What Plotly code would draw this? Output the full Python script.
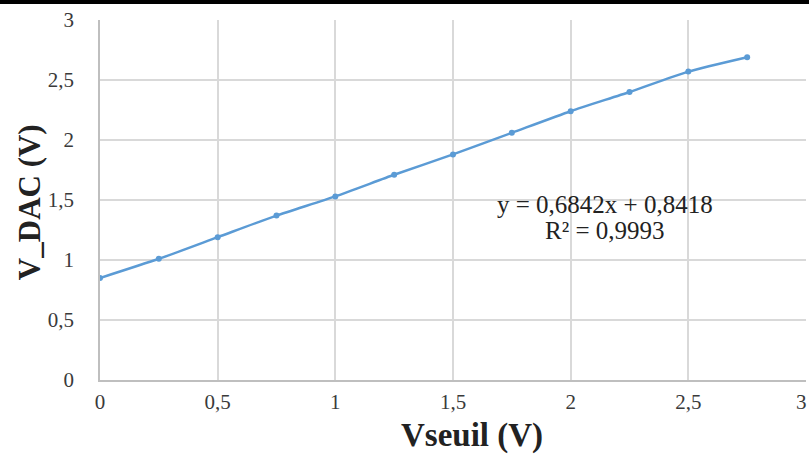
import plotly.graph_objects as go

vseuil = [0, 0.25, 0.5, 0.75, 1, 1.25, 1.5, 1.75, 2, 2.25, 2.5, 2.75]
v_dac = [0.85, 1.01, 1.19, 1.37, 1.53, 1.71, 1.88, 2.06, 2.24, 2.40, 2.57, 2.69]
x_ticks = [0, 0.5, 1, 1.5, 2, 2.5, 3]
x_tick_labels = ["0", "0,5", "1", "1,5", "2", "2,5", "3"]
y_ticks = [0, 0.5, 1, 1.5, 2, 2.5, 3]
y_tick_labels = ["0", "0,5", "1", "1,5", "2", "2,5", "3"]
fit_text = "y = 0,6842x + 0,8418"
r2_text = "R² = 0,9993"
x_title = "Vseuil (V)"
y_title = "V_DAC (V)"

serif = "Liberation Serif, Times New Roman, serif"
tick_color = "#3a3a3a"

fig = go.Figure()
fig.add_trace(go.Scatter(
    x=vseuil, y=v_dac, mode="lines+markers",
    line=dict(color="#5B9BD5", width=2.5, shape="spline", smoothing=0.6),
    marker=dict(color="#5B9BD5", size=6),
    showlegend=False,
))

fig.add_annotation(
    x=2.146, y=1.46, xref="x", yref="y", xanchor="center", yanchor="middle",
    text=fit_text, showarrow=False,
    font=dict(family=serif, size=25, color="#222222"),
)
fig.add_annotation(
    x=2.146, y=1.25, xref="x", yref="y", xanchor="center", yanchor="middle",
    text=r2_text, showarrow=False,
    font=dict(family=serif, size=25, color="#222222"),
)
# last x tick label, at the right edge as in the original
fig.add_annotation(
    x=x_ticks[-1], y=0, xref="x", yref="paper", yshift=-22, xshift=3,
    xanchor="right", yanchor="middle",
    text=x_tick_labels[-1], showarrow=False,
    font=dict(family=serif, size=21, color=tick_color),
)
# axis titles
fig.add_annotation(
    x=0.527, y=-0.212, xref="paper", yref="paper",
    xanchor="center", yanchor="bottom",
    text="<b>" + x_title + "</b>", showarrow=False,
    font=dict(family=serif, size=33, color="#222222"),
)
fig.add_annotation(
    x=-0.1006, y=0.494, xref="paper", yref="paper", textangle=-90,
    xanchor="center", yanchor="middle",
    text="<b>" + y_title + "</b>", showarrow=False,
    font=dict(family=serif, size=31, color="#222222"),
)

fig.add_shape(type="line", xref="paper", yref="paper",
              x0=-0.2, x1=1.1, y0=1.05, y1=1.05,
              line=dict(color="black", width=4))

fig.update_layout(
    width=809, height=457,
    margin=dict(l=100, r=3, t=20, b=77),
    paper_bgcolor="white", plot_bgcolor="white",
    xaxis=dict(
        range=[0, 3], tickvals=x_ticks, ticktext=x_tick_labels,
        showgrid=True, gridcolor="#d9d9d9", gridwidth=1.5,
        showline=True, linecolor="#bfbfbf", linewidth=1.5,
        zeroline=False, ticks="", ticklabelstandoff=2,
        tickfont=dict(family=serif, size=21, color=tick_color),
    ),
    yaxis=dict(
        range=[0, 3], tickvals=y_ticks, ticktext=y_tick_labels,
        showgrid=True, gridcolor="#d9d9d9", gridwidth=1.5,
        showline=True, linecolor="#bfbfbf", linewidth=1.5,
        zeroline=False, ticks="", ticklabelstandoff=20,
        tickfont=dict(family=serif, size=21, color=tick_color),
    ),
)

fig.write_html("out.html", config={"displayModeBar": False},
               post_script="document.body.style.margin='0';")
